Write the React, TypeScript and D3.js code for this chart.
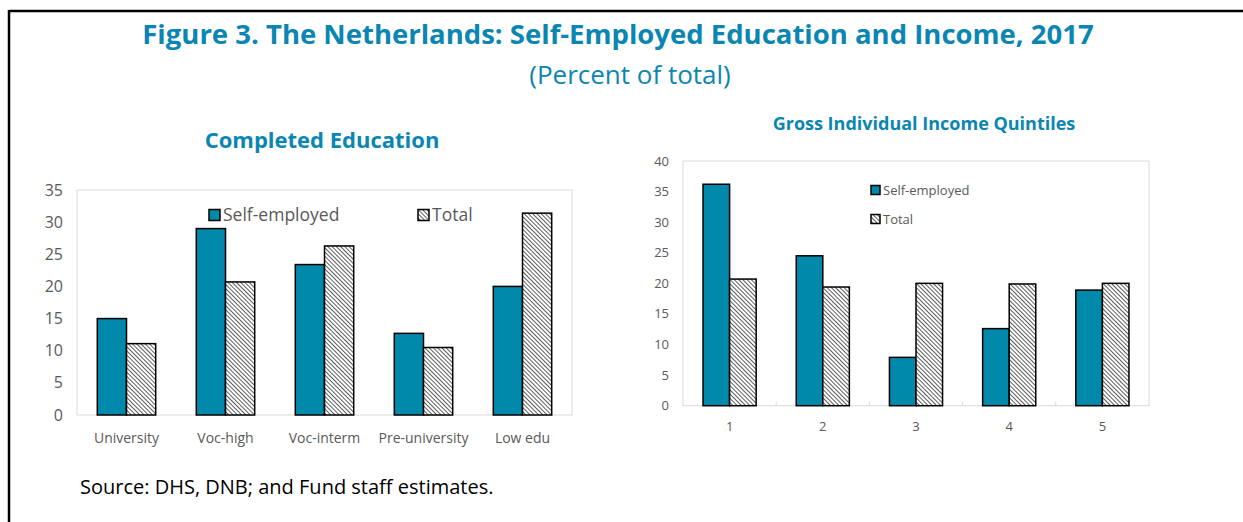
import React from 'react';
import * as d3 from 'd3';

const eduCategories = ['University', 'Voc-high', 'Voc-interm', 'Pre-university', 'Low edu'];
const eduSelfEmployed = [15.0, 29.0, 23.4, 12.7, 20.0];
const eduTotal = [11.1, 20.7, 26.3, 10.5, 31.4];
const eduTicks = [0, 5, 10, 15, 20, 25, 30, 35];

const incCategories = ['1', '2', '3', '4', '5'];
const incSelfEmployed = [36.2, 24.5, 7.9, 12.6, 18.9];
const incTotal = [20.7, 19.4, 20.0, 19.9, 20.0];
const incTicks = [0, 5, 10, 15, 20, 25, 30, 35, 40];

const seriesNames = ['Self-employed', 'Total'];

const TEAL = '#0089ab';
const TITLE = '#0a86b2';
const GREY = '#595959';
const FONT = '"Open Sans", "Noto Sans", sans-serif';

interface PanelProps {
  categories: string[];
  se: number[];
  total: number[];
  ticks: number[];
  left: number;
  right: number;
  top: number;
  bottom: number;
  yMax: number;
  padding: number;
  tickFont: number;
  catFont: number;
  catY: number;
  innerTicks: boolean;
}

const Panel: React.FC<PanelProps> = (p) => {
  const x0 = d3.scaleBand<string>().domain(p.categories).range([p.left, p.right]).paddingInner(p.padding).paddingOuter(p.padding / 2);
  const x1 = d3.scaleBand<string>().domain(seriesNames).range([0, x0.bandwidth()]);
  const y = d3.scaleLinear().domain([0, p.yMax]).range([p.bottom, p.top]);
  const step = x0.step();

  return (
    <g>
      <rect x={p.left} y={p.top} width={p.right - p.left} height={p.bottom - p.top} fill="none" stroke="#d9d9d9" strokeWidth={1} />
      {p.innerTicks && p.categories.slice(1).map((c, i) => (
        <line key={c} x1={p.left + step * (i + 1)} x2={p.left + step * (i + 1)} y1={p.bottom} y2={p.bottom - 4} stroke="#d9d9d9" />
      ))}
      {p.ticks.map(t => (
        <text key={t} x={p.left - 14} y={y(t)} dy="0.35em" textAnchor="end" fontSize={p.tickFont} fill={GREY} fontFamily={FONT}>{t}</text>
      ))}
      {p.categories.map((c, i) => (
        <g key={c}>
          <rect x={(x0(c) ?? 0) + (x1('Self-employed') ?? 0)} y={y(p.se[i])} width={x1.bandwidth()} height={y(0) - y(p.se[i])} fill={TEAL} stroke="#000" strokeWidth={1.5} />
          <rect x={(x0(c) ?? 0) + (x1('Total') ?? 0)} y={y(p.total[i])} width={x1.bandwidth()} height={y(0) - y(p.total[i])} fill="url(#hatch)" stroke="#000" strokeWidth={1.5} />
          <text x={(x0(c) ?? 0) + x0.bandwidth() / 2} y={p.catY} dy="0.35em" textAnchor="middle" fontSize={p.catFont} fill={GREY} fontFamily={FONT}>{c}</text>
        </g>
      ))}
    </g>
  );
};

const LegendItem: React.FC<{ x: number; y: number; size: number; fill: string; label: string; fontSize: number }> = ({ x, y, size, fill, label, fontSize }) => (
  <g>
    <rect x={x} y={y - size / 2} width={size} height={size} fill={fill} stroke="#000" strokeWidth={1.5} />
    <text x={x + size + 3} y={y} dy="0.35em" fontSize={fontSize} fill={GREY} fontFamily={FONT}>{label}</text>
  </g>
);

export default function App() {
  return (
    <div style={{ position: 'fixed', left: 0, top: 0, background: '#fff' }}>
      <svg width={1243} height={522} style={{ display: 'block' }}>
        <defs>
          <pattern id="hatch" patternUnits="userSpaceOnUse" width={3} height={3} patternTransform="rotate(-45)">
            <rect width={3} height={3} fill="#fff" />
            <line x1={0} y1={0} x2={0} y2={3} stroke="#333" strokeWidth={1.6} />
          </pattern>
        </defs>
        <rect x={0} y={0} width={1243} height={522} fill="#fff" />
        <line x1={9} x2={1243} y1={11} y2={11} stroke="#000" strokeWidth={2.5} />
        <line x1={9} x2={9} y1={10} y2={522} stroke="#000" strokeWidth={2.5} />

        <text x={618} y={44} textAnchor="middle" fontSize={27.5} fontWeight="bold" fill={TITLE} fontFamily={FONT}>Figure 3. The Netherlands: Self-Employed Education and Income, 2017</text>
        <text x={630} y={84} textAnchor="middle" fontSize={26} fill={TITLE} fontFamily={FONT}>(Percent of total)</text>

        <text x={322} y={148} textAnchor="middle" fontSize={22} fontWeight="bold" fill={TITLE} fontFamily={FONT}>Completed Education</text>
        <Panel categories={eduCategories} se={eduSelfEmployed} total={eduTotal} ticks={eduTicks}
          left={77} right={572} top={190} bottom={415} yMax={35} padding={0.41}
          tickFont={16} catFont={14} catY={438} innerTicks={false} />
        <LegendItem x={209} y={215} size={11} fill={TEAL} label={seriesNames[0]} fontSize={17.5} />
        <LegendItem x={418} y={215} size={11} fill="url(#hatch)" label={seriesNames[1]} fontSize={17.5} />

        <text x={924} y={130} textAnchor="middle" fontSize={18} fontWeight="bold" fill={TITLE} fontFamily={FONT}>Gross Individual Income Quintiles</text>
        <Panel categories={incCategories} se={incSelfEmployed} total={incTotal} ticks={incTicks}
          left={683} right={1149} top={161} bottom={405.7} yMax={40} padding={0.43}
          tickFont={13} catFont={13} catY={426} innerTicks={true} />
        <LegendItem x={871} y={190} size={9} fill={TEAL} label={seriesNames[0]} fontSize={13} />
        <LegendItem x={871} y={219} size={9} fill="url(#hatch)" label={seriesNames[1]} fontSize={13} />

        <text x={80} y={487} dy="0.35em" fontSize={20} fill="#000" fontFamily={FONT}>Source: DHS, DNB; and Fund staff estimates.</text>
      </svg>
    </div>
  );
}
